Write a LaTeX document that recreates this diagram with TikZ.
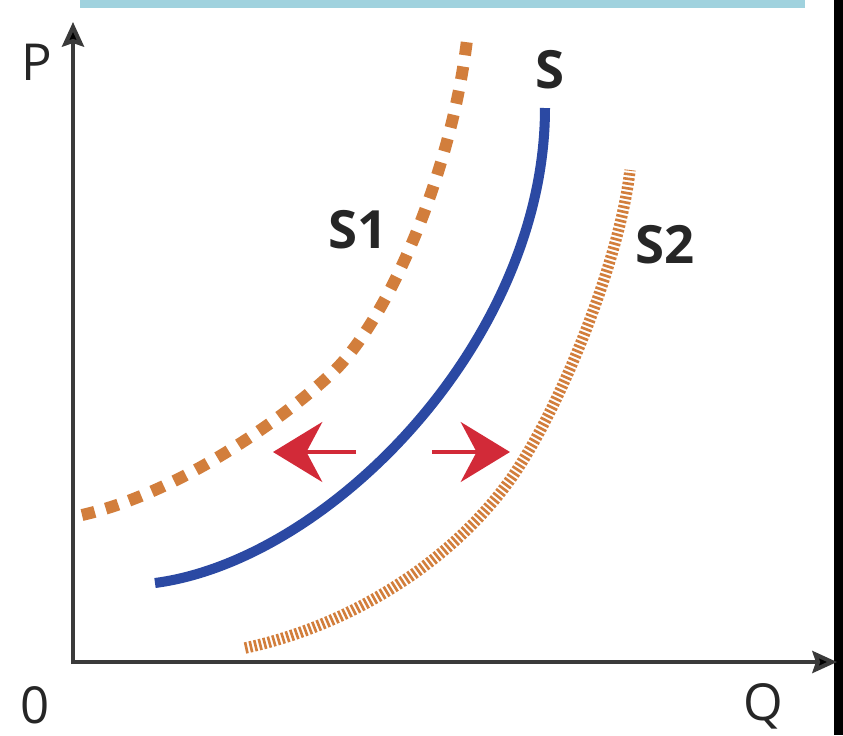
\documentclass[tikz,border=0pt]{standalone}
\usepackage{fontspec}
\setmainfont{Open Sans}
\usetikzlibrary{arrows.meta}
\definecolor{sblue}{HTML}{2B49A3}
\definecolor{sorange}{HTML}{D27E3C}
\definecolor{sred}{HTML}{D22A38}
\definecolor{axisgray}{HTML}{3A3A3A}
\definecolor{barblue}{HTML}{A0D2DE}
\tikzset{
  axisline/.style={draw=axisgray, line width=2.3pt, -{Stealth[length=14pt,width=12.5pt,inset=2pt,fill=black]}},
  axislabel/.style={font=\fontsize{29}{35}\selectfont, text=black!85, inner sep=0pt},
  curvelabel/.style={font=\fontsize{30}{36}\selectfont\bfseries, text=black!85, inner sep=0pt},
  scurve/.style={draw=sblue, line width=5.7pt},
  sonecurve/.style={draw=sorange, line width=6.8pt, dash pattern=on 7.5pt off 6.5pt},
  stwocurve/.style={draw=sorange, line width=6.5pt, dash pattern=on 1.5pt off 1.2pt},
  shiftarrow/.style={draw=sred, line width=2.8pt, -{Stealth[length=28pt,width=34pt,inset=9pt,fill=sred]}}
}
\begin{document}
\begin{tikzpicture}[x=0.02cm,y=-0.02cm]
\useasboundingbox (0,0) rectangle (843,735);
\fill[white] (0,0) rectangle (843,735);
% top bar and right edge
\fill[barblue] (80,0) rectangle (805,8);
\fill[black] (834,0) rectangle (843,735);
% axes
\coordinate (origin) at (73,664);
\coordinate (ptop) at (73,22);
\coordinate (qend) at (837,662);
\draw[axisline] (origin) -- (ptop);
\draw[axisline] ([xshift=-1.1pt]origin |- qend) -- (qend);
% axis labels
\node[axislabel] (plabel) at (37,62) {P};
\node[axislabel] (zlabel) at (35,705) {0};
\node[axislabel] (qlabel) at (763,706) {Q};
% S1 dashed
\draw[sonecurve] (82,515) .. controls (170,495) and (270,430) .. (330,375)
                 .. controls (385,325) and (450,180) .. (467,40);
% S solid
\draw[scurve] (155,583) .. controls (330,560) and (545,340) .. (545,108);
% S2 dotted
\draw[stwocurve] (245,648) .. controls (340,628) and (445,570) .. (510,480)
                 .. controls (560,410) and (620,260) .. (630,170);
% curve labels
\node[curvelabel] (slabel) at (550,70) {S};
\node[curvelabel] (s1label) at (358,230) {S1};
\node[curvelabel] (s2label) at (665,245) {S2};
% shift arrows
\coordinate (lstart) at (356,452);
\coordinate (ltip) at (273,452);
\coordinate (rstart) at (432,452);
\coordinate (rtip) at (510,452);
\draw[shiftarrow] (lstart) -- (ltip);
\draw[shiftarrow] (rstart) -- (rtip);
\end{tikzpicture}
\end{document}
